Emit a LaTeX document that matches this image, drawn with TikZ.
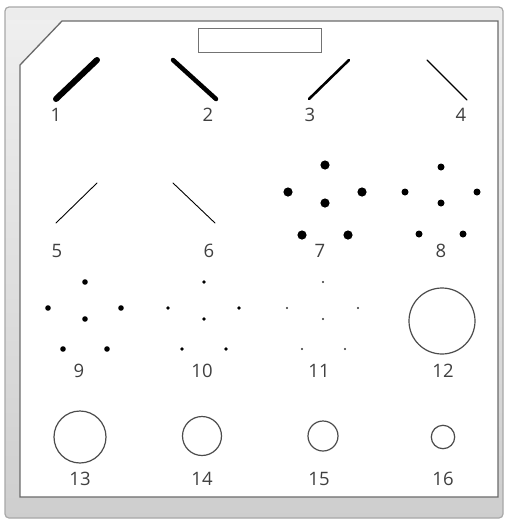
\documentclass[tikz,border=0pt]{standalone}
\usepackage{fontspec}
\setmainfont{Open Sans}
\definecolor{txt}{HTML}{404040}
\definecolor{frm}{HTML}{E0E0E0}
\definecolor{frmedge}{HTML}{A8A8A8}
\definecolor{panedge}{HTML}{6A6A6A}
\begin{document}
\begin{tikzpicture}[x=1pt,y=-1pt,
  lbl/.style={font=\fontsize{18.5}{18.5}\selectfont, text=txt, inner sep=0pt, anchor=center},
  stroke/.style={black, line cap=round},
  ring/.style={draw=black!70, line width=1.2pt},
  dot/.style={fill=black}]
\useasboundingbox (0,0) rectangle (505,520);
% frame
\fill[white] (0,0) rectangle (505,520);
\draw[frmedge, line width=1.2pt, top color=white!50!frm, bottom color=frm!92!black, middle color=frm, rounded corners=4pt] (5,7) rectangle (503,518);
\fill[frm!60!white] (7,9) rectangle (501,20);
\draw[fill=white, draw=panedge, line width=1.3pt] (20,65) -- (62,21) -- (498,21) -- (498,497) -- (20,497) -- cycle;
% top box
\draw[draw=black!55, line width=1pt] (198,28) rectangle (321,52);
% lines
\draw[stroke, line width=6pt] (56,99) -- (97,60);
\draw[stroke, line width=4.5pt] (173,60) -- (216,99);
\draw[stroke, line width=2.6pt] (309,99) -- (349,60);
\draw[stroke, line width=1.4pt] (427,60) -- (467,100);
\draw[stroke, line width=0.9pt] (56,223) -- (97,183);
\draw[stroke, line width=0.9pt] (173,183) -- (215,223);
% labels
\node[lbl] (l1) at (56,115) {1};
\node[lbl] (l2) at (208,115) {2};
\node[lbl] (l3) at (310,115) {3};
\node[lbl] (l4) at (461,115) {4};
\node[lbl] (l5) at (57,251) {5};
\node[lbl] (l6) at (209,251) {6};
\node[lbl] (l7) at (320,251) {7};
\node[lbl] (l8) at (441,251) {8};
\node[lbl] (l9) at (79,371) {9};
\node[lbl] (l10) at (202,371) {10};
\node[lbl] (l11) at (319,371) {11};
\node[lbl] (l12) at (443,371) {12};
\node[lbl] (l13) at (80,479) {13};
\node[lbl] (l14) at (202,479) {14};
\node[lbl] (l15) at (319,479) {15};
\node[lbl] (l16) at (443,479) {16};
% dot patterns
\foreach \p in {(325,165),(288,192),(362,192),(325,203),(302,235),(348,235)} \fill[dot] \p circle (4.6);
\foreach \p in {(441,167),(405,192),(477,192),(441,203),(419,234),(463,234)} \fill[dot] \p circle (3.5);
\foreach \p in {(85,282),(48,308),(121,308),(85,319),(63,349),(107,349)} \fill[dot] \p circle (2.8);
\foreach \p in {(204,282),(168,308),(239,308),(204,319),(182,349),(226,349)} \fill[dot] \p circle (1.8);
\foreach \p in {(323,282),(287,308),(358,308),(323,319),(302,349),(345,349)} \fill[black!80] \p circle (1.1);
% circles
\draw[ring] (442,321) circle (33);
\draw[ring] (80,437) circle (26);
\draw[ring] (202,436) circle (19.5);
\draw[ring] (323,436) circle (15);
\draw[ring] (443,437) circle (11.7);
\end{tikzpicture}
\end{document}
